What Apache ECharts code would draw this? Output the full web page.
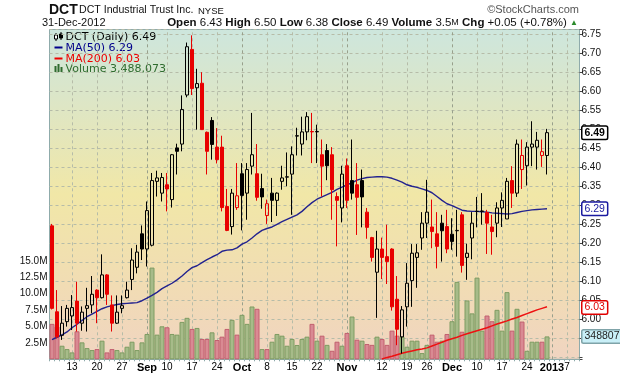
<!DOCTYPE html>
<html><head><meta charset="utf-8">
<script src="https://cdn.jsdelivr.net/npm/echarts@6/dist/echarts.min.js"></script>
<style>html,body{margin:0;padding:0;background:#fff}#c{width:620px;height:376px}</style>
</head><body><div id="c"></div>
<script>
// ---- data ----
const dates = [
'2012-08-07','2012-08-08','2012-08-09','2012-08-10','2012-08-13','2012-08-14','2012-08-15','2012-08-16','2012-08-17','2012-08-20','2012-08-21','2012-08-22','2012-08-23','2012-08-24','2012-08-27','2012-08-28','2012-08-29','2012-08-30','2012-08-31',
'2012-09-04','2012-09-05','2012-09-06','2012-09-07','2012-09-10','2012-09-11','2012-09-12','2012-09-13','2012-09-14','2012-09-17','2012-09-18','2012-09-19','2012-09-20','2012-09-21','2012-09-24','2012-09-25','2012-09-26','2012-09-27','2012-09-28',
'2012-10-01','2012-10-02','2012-10-03','2012-10-04','2012-10-05','2012-10-08','2012-10-09','2012-10-10','2012-10-11','2012-10-12','2012-10-15','2012-10-16','2012-10-17','2012-10-18','2012-10-19','2012-10-22','2012-10-23','2012-10-24','2012-10-25','2012-10-26','2012-10-31',
'2012-11-01','2012-11-02','2012-11-05','2012-11-06','2012-11-07','2012-11-08','2012-11-09','2012-11-12','2012-11-13','2012-11-14','2012-11-15','2012-11-16','2012-11-19','2012-11-20','2012-11-21','2012-11-23','2012-11-26','2012-11-27','2012-11-28','2012-11-29','2012-11-30',
'2012-12-03','2012-12-04','2012-12-05','2012-12-06','2012-12-07','2012-12-10','2012-12-11','2012-12-12','2012-12-13','2012-12-14','2012-12-17','2012-12-18','2012-12-19','2012-12-20','2012-12-21','2012-12-24','2012-12-26','2012-12-27','2012-12-28','2012-12-31'];
const futureDates = ['2013-01-02','2013-01-03','2013-01-04','2013-01-07','2013-01-08','2013-01-09'];

const opens = [6.245,6.019,5.957,5.993,
6.008,6.047,5.989,6.028,6.037,6.076,6.056,6.116,6.037,5.989,
6.028,6.056,6.104,6.136,6.224,6.184,6.194,6.362,6.331,6.353,
6.314,6.450,6.460,6.589,6.709,6.608,6.620,6.491,6.522,6.452,
6.452,6.296,6.243,6.293,6.382,6.331,6.402,6.382,6.343,6.272,
6.331,6.312,6.362,6.373,6.381,6.481,6.460,6.492,6.493,6.492,
6.432,6.443,6.432,6.322,6.292,6.403,6.364,6.353,6.364,6.281,
6.214,6.123,6.184,6.164,6.184,6.052,5.953,6.032,6.101,6.162,
6.213,6.252,6.242,6.224,6.252,6.243,6.223,6.232,6.274,6.162,
6.213,6.283,6.283,6.280,6.242,6.252,6.292,6.263,6.364,6.331,
6.393,6.403,6.452,6.452,6.430,6.43];
const highs = [6.250,6.076,6.034,6.037,
6.063,6.098,6.033,6.082,6.113,6.078,6.170,6.118,6.062,6.062,
6.062,6.098,6.186,6.195,6.246,6.309,6.384,6.390,6.384,6.384,
6.434,6.461,6.588,6.727,6.746,6.658,6.649,6.493,6.531,6.502,
6.482,6.342,6.342,6.410,6.410,6.410,6.542,6.460,6.382,6.314,
6.371,6.333,6.403,6.438,6.454,6.503,6.532,6.544,6.542,6.511,
6.472,6.460,6.452,6.333,6.403,6.422,6.472,6.410,6.393,6.292,
6.216,6.232,6.214,6.248,6.186,6.113,6.034,6.147,6.197,6.197,
6.281,6.366,6.314,6.281,6.274,6.287,6.265,6.287,6.281,6.198,
6.281,6.321,6.331,6.287,6.274,6.307,6.333,6.371,6.402,6.472,
6.472,6.465,6.520,6.492,6.472,6.50];
const lows = [6.025,5.949,5.945,5.980,
5.971,5.967,5.969,5.967,6.015,5.989,6.054,6.037,5.967,5.987,
6.015,6.054,6.076,6.120,6.155,6.138,6.191,6.322,6.309,6.283,
6.293,6.380,6.441,6.583,6.589,6.498,6.498,6.380,6.419,6.409,
6.283,6.231,6.222,6.287,6.233,6.261,6.380,6.311,6.290,6.250,
6.255,6.271,6.340,6.349,6.274,6.430,6.430,6.470,6.410,6.410,
6.322,6.365,6.261,6.191,6.254,6.292,6.314,6.221,6.241,6.211,
6.151,6.003,6.105,6.092,6.022,5.931,5.909,5.980,6.032,6.082,
6.182,6.213,6.186,6.133,6.151,6.173,6.182,6.164,6.122,6.103,
6.157,6.241,6.248,6.171,6.169,6.215,6.242,6.263,6.292,6.321,
6.342,6.351,6.402,6.393,6.400,6.38];
const closes = [6.028,5.953,5.989,6.028,
6.030,5.989,6.018,6.035,6.065,6.056,6.116,6.065,5.989,6.018,
6.035,6.076,6.155,6.176,6.184,6.285,6.364,6.371,6.372,6.342,
6.432,6.441,6.551,6.716,6.606,6.619,6.498,6.441,6.459,6.419,
6.293,6.233,6.331,6.324,6.325,6.393,6.432,6.320,6.321,6.303,
6.312,6.331,6.371,6.374,6.432,6.482,6.492,6.532,6.492,6.493,
6.402,6.403,6.340,6.312,6.381,6.312,6.331,6.320,6.321,6.241,
6.162,6.184,6.162,6.151,6.032,5.973,6.024,6.094,6.173,6.174,
6.252,6.281,6.230,6.191,6.232,6.184,6.204,6.233,6.141,6.173,
6.252,6.283,6.284,6.252,6.230,6.292,6.312,6.362,6.331,6.460,
6.430,6.452,6.460,6.470,6.440,6.49];
// volume in millions of shares
const volumes = [5.4,5.0,2.07,1.56,
1.05,4.27,2.58,1.71,1.41,1.56,2.84,1.05,1.56,1.41,
1.05,1.92,2.68,1.41,2.58,3.86,13.98,3.76,5.03,4.88,
3.86,3.76,5.7,6.32,4.63,4.78,3.1,3.1,4.11,2.94,
3.45,4.63,6.01,3.76,6.78,5.4,8.05,7.7,1.56,1.56,
2.68,3.86,3.6,2.07,3.1,2.18,3.1,3.45,5.4,2.84,
3.6,2.2,1.3,2.68,2.07,4.02,6.52,2.99,2.84,2.33,
2.2,3.45,3.1,2.2,4.37,3.6,3.45,1.92,2.84,2.84,
0.95,2.2,3.76,2.68,2.84,3.86,5.8,11.8,4.2,8.97,
7.0,12.45,4.37,6.67,5.8,7.54,4.37,10.24,4.37,7.7,
5.75,1.3,2.68,2.68,2.68,3.488073];
const ma50 = [5.946,5.952,5.958,5.966,5.977,5.986,5.996,6.006,6.013,6.020,
6.027,6.032,6.035,6.038,6.040,6.041,6.042,6.043,6.048,6.055,
6.062,6.070,6.080,6.087,6.094,6.103,6.113,6.125,6.135,6.140,
6.148,6.156,6.163,6.169,6.178,6.181,6.182,6.187,6.197,6.203,
6.213,6.224,6.233,6.238,6.242,6.249,6.256,6.262,6.268,6.274,
6.283,6.295,6.306,6.315,6.321,6.327,6.333,6.341,6.347,6.353,
6.358,6.365,6.369,6.372,6.373,6.374,6.374,6.373,6.370,6.365,
6.360,6.353,6.349,6.346,6.342,6.338,6.332,6.322,6.312,6.303,
6.298,6.292,6.286,6.284,6.283,6.283,6.282,6.281,6.279,6.278,
6.277,6.276,6.277,6.280,6.283,6.285,6.287,6.288,6.289,6.290];
const ma200Start = '2012-11-12';
const ma200 = [5.895,5.899,5.902,5.906,5.910,5.913,5.916,5.919,5.921,5.924,
5.929,5.934,5.939,5.944,5.948,5.952,5.957,5.961,5.965,5.969,
5.973,5.977,5.982,5.987,5.991,5.995,6.000,6.004,6.009,6.014,
6.019,6.024,6.028,6.032];

const tickDates = ['2012-08-13','2012-08-20','2012-08-27','2012-09-04','2012-09-10','2012-09-17','2012-09-24','2012-10-01','2012-10-08','2012-10-15','2012-10-22','2012-11-01','2012-11-12','2012-11-19','2012-11-26','2012-12-03','2012-12-10','2012-12-17','2012-12-24','2013-01-02','2013-01-07'];
const tickTexts = ['13','20','27','Sep','10','17','24','Oct','8','15','22','Nov','12','19','26','Dec','10','17','24','2013','7'];
const boldTicks = ['Sep','Oct','Nov','Dec','2013'];
const extraGridDates = ['2012-10-31'];
const volTickLabels = [2.5,5,7.5,10,12.5,15];

// ---- build ----
const RED = '#e80000', BLACK = '#000000';
const N = dates.length;
const cats = dates.concat(futureDates);
const isDown = closes.map((c,k)=> k>0 ? c < closes[k-1] : c < opens[k]);
const candleData = opens.map((o,k)=>{
  const c = closes[k];
  const col = isDown[k] ? RED : BLACK;
  const fill = c > o ? 'rgba(0,0,0,0)' : col;
  return {value:[o,c,lows[k],highs[k]], itemStyle:{color:fill,color0:fill,borderColor:col,borderColor0:col,borderColorDoji:col}};
});
const volData = volumes.map((v,k)=>({value:v*1e6, itemStyle: isDown[k]
  ? {color:'#d98a93', borderColor:'#c2606f'}
  : {color:'#a7bb89', borderColor:'#7f9c62'}}));
const s200 = dates.indexOf(ma200Start);
const ma200Data = ma200.map((v,k)=>[dates[s200+k], v]);
const gridDates = tickDates.concat(extraGridDates);
const gridLineData = gridDates.map(dt=>{
  const t = tickTexts[tickDates.indexOf(dt)];
  return {xAxis:dt, lineStyle:{color: boldTicks.includes(t) ? '#98a08c' : '#b6bca8'}};
});

const lastC = closes[N-1], prevC = closes[N-2];
const chg = lastC - prevC;
const lastVol = Math.round(volumes[N-1]*1e6);
const fmtInt = n => String(n).replace(/\B(?=(\d{3})+(?!\d))/g, ',');
const d = new Date(dates[N-1]+'T00:00:00');
const mon = ['Jan','Feb','Mar','Apr','May','Jun','Jul','Aug','Sep','Oct','Nov','Dec'];
const dateStr = String(d.getDate()).padStart(2,'0')+'-'+mon[d.getMonth()]+'-'+d.getFullYear();

const FONT = 'Liberation Sans';
const chart = echarts.init(document.getElementById('c'), null, {renderer:'canvas'});

const tag = (txt, val, col, bg, bold, bc) => ({
  silent:true, symbol:['none','none'], animation:false, z:10,
  lineStyle:{color:'rgba(0,0,0,0)', width:0},
  data:[{yAxis:val}],
  label:{show:true, position:'end', distance:3, formatter: txt,
    backgroundColor:bg, borderColor:bc||col, borderWidth:1.5, borderRadius:1,
    padding:[1,2,0,2], fontSize:10.5, fontFamily:FONT, fontWeight: bold?'bold':'normal', color:col}
});

const option = {
  animation:false,
  grid:{left:49.5, right:40.5, top:29.5, bottom:16.7, show:true,
    borderColor:'#8fabab', borderWidth:1,
    backgroundColor:{type:'linear',x:0,y:0,x2:0,y2:1,colorStops:[
      {offset:0,color:'#cde6dd'},{offset:0.22,color:'#dde6c6'},{offset:0.5,color:'#f1e7a7'},
      {offset:0.78,color:'#f1dcb4'},{offset:1,color:'#f0d4c1'}]}},
  xAxis:{type:'category', data:cats, boundaryGap:true,
    axisLine:{show:true, lineStyle:{color:'#8fabab'}},
    axisTick:{show:true, interval:0, length:2, lineStyle:{color:'#8fabab'}},
    axisLabel:{interval:(i,v)=>tickDates.includes(v), margin:3, fontSize:10, fontFamily:FONT, color:'#000',
      formatter:(v)=>{const t=tickTexts[tickDates.indexOf(v)]; return boldTicks.includes(t)?'{b|'+t+'}':t;},
      rich:{b:{fontWeight:'bold', fontSize:11, fontFamily:FONT, color:'#000'}}},
    splitLine:{show:false}
  },
  yAxis:[
    {type:'value', position:'right', min:5.894, max:6.7613, minInterval:0.05, maxInterval:0.05, splitNumber:17,
      axisLine:{show:false}, axisTick:{show:true, length:3, lineStyle:{color:'#444'}},
      axisLabel:{margin:2, fontSize:10, fontFamily:FONT, color:'#111',
        formatter:v=> (v>5.92 && Math.abs(v*20-Math.round(v*20))<1e-6) ? v.toFixed(2) : ''},
      splitLine:{show:true, lineStyle:{color:'#b6bca8', type:[3,3], width:1}}},
    {type:'value', position:'left', min:0, max:50.27e6, interval:2.5e6,
      axisLine:{show:false}, axisTick:{show:false}, splitLine:{show:false},
      axisLabel:{margin:2, fontSize:10, fontFamily:FONT, color:'#111',
        formatter:v=> volTickLabels.some(t=>Math.abs(t*1e6-v)<1) ? (v/1e6).toFixed(1)+'M' : ''}}
  ],
  series:[
    {name:'grid', type:'line', data:[], z:0, silent:true,
      markLine:{silent:true, symbol:['none','none'], animation:false, z:0.5, label:{show:false},
        lineStyle:{type:[3,3], width:1, color:'#b6bca8'}, data:gridLineData}},
    {name:'Volume', type:'bar', yAxisIndex:1, barWidth:5, data:volData, z:1, silent:true,
      itemStyle:{borderWidth:1},
      markLine: tag(String(lastVol), lastVol, '#222', '#c9eff7', false, '#7fa3a8')},
    {name:'MA200', type:'line', data:ma200Data, yAxisIndex:0, symbol:'none', z:3, silent:true,
      lineStyle:{color:'#ee1111', width:1.5},
      markLine: tag(ma200[ma200.length-1].toFixed(2), ma200[ma200.length-1], '#e00000', '#ffffff', false)},
    {name:'MA50', type:'line', data:ma50, yAxisIndex:0, symbol:'none', z:3, silent:true,
      lineStyle:{color:'#22228f', width:1.4},
      markLine: tag(ma50[N-1].toFixed(2), ma50[N-1], '#1a1aa0', '#ffffff', false)},
    {name:'DCT', type:'candlestick', data:candleData, yAxisIndex:0, barWidth:3.6, z:4, silent:true,
      itemStyle:{borderWidth:1},
      markLine: tag(lastC.toFixed(2), lastC, '#000', '#ffffff', true)}
  ],
  graphic:[
    {type:'text', left:49, top:3, style:{text:'DCT', font:'bold 14px "Liberation Sans"', fill:'#111'}},
    {type:'text', left:79, top:5, style:{text:'DCT Industrial Trust Inc.', font:'10.6px "Liberation Sans"', fill:'#111'}},
    {type:'text', left:198, top:6, style:{text:'NYSE', font:'9.5px "Liberation Sans"', fill:'#111'}},
    {type:'text', right:41, top:4, style:{text:'\u00a9StockCharts.com', font:'11px "Liberation Sans"', fill:'#555'}},
    {type:'text', left:42, top:17, style:{text:dateStr, font:'11px "Liberation Sans"', fill:'#111'}},
    {type:'text', right:42, top:17, style:{
      text:'{b|Open} '+opens[N-1].toFixed(2)+' {b|High} '+highs[N-1].toFixed(2)+' {b|Low} '+lows[N-1].toFixed(2)+' {b|Close} '+lastC.toFixed(2)+' {b|Volume} '+(volumes[N-1]).toFixed(1)+'{s|M} {b|Chg} '+(chg>=0?'+':'')+chg.toFixed(2)+' ('+(chg>=0?'+':'')+(chg/prevC*100).toFixed(2)+'%) {g|\u25B2}',
      font:'11.5px "Liberation Sans"', fill:'#111',
      rich:{b:{font:'bold 11.5px "Liberation Sans"', fill:'#111'}, s:{font:'9px "Liberation Sans"', fill:'#111'}, g:{font:'8px "Liberation Sans"', fill:'#2a8a2a'}}}},
    // legend
    {type:'group', left:52, top:29.5, children:[
      {type:'line', shape:{x1:1.5,y1:1,x2:1.5,y2:9}, style:{stroke:'#000',lineWidth:1}},
      {type:'rect', shape:{x:0,y:3,width:3,height:4}, style:{fill:'#fff',stroke:'#000',lineWidth:1}},
      {type:'line', shape:{x1:6.5,y1:0,x2:6.5,y2:8}, style:{stroke:'#000',lineWidth:1}},
      {type:'rect', shape:{x:5,y:2,width:3,height:4}, style:{fill:'#000',stroke:'#000',lineWidth:1}},
      {type:'text', x:11, y:0, style:{text:'DCT (Daily) '+lastC.toFixed(2), font:'11px "DejaVu Sans"', fill:'#000'}},
      {type:'line', shape:{x1:0,y1:15.5,x2:8,y2:15.5}, style:{stroke:'#00008b',lineWidth:2}},
      {type:'text', x:11, y:10.5, style:{text:'MA(50) '+ma50[N-1].toFixed(2), font:'11px "DejaVu Sans"', fill:'#00008b'}},
      {type:'line', shape:{x1:0,y1:26.5,x2:8,y2:26.5}, style:{stroke:'#ee0000',lineWidth:2}},
      {type:'text', x:11, y:21.5, style:{text:'MA(200) '+ma200[ma200.length-1].toFixed(2), font:'11px "DejaVu Sans"', fill:'#ee0000'}},
      {type:'rect', shape:{x:0,y:34,width:2,height:6}, style:{fill:'#2e6b2e'}},
      {type:'rect', shape:{x:3,y:32,width:2,height:8}, style:{fill:'#2e6b2e'}},
      {type:'rect', shape:{x:6,y:35,width:2,height:5}, style:{fill:'#2e6b2e'}},
      {type:'text', x:11, y:32, style:{text:'Volume '+fmtInt(lastVol), font:'11px "DejaVu Sans"', fill:'#2e6b2e'}}
    ]}
  ]
};
chart.setOption(option);
</script></body></html>
